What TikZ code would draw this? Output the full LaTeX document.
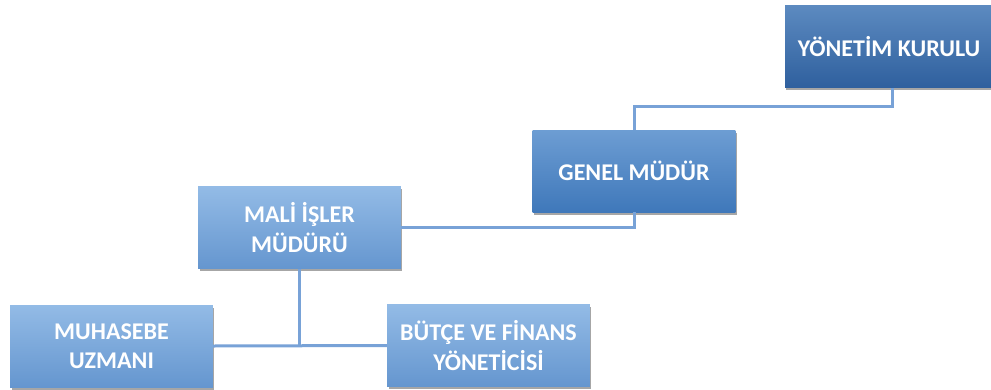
\documentclass[tikz,border=0pt]{standalone}
\usepackage{fontspec}
\setmainfont{Carlito}
\usetikzlibrary{shadows}
\definecolor{kurulTop}{HTML}{5C8AC0}
\definecolor{kurulBot}{HTML}{2F609E}
\definecolor{genelTop}{HTML}{6D9DD3}
\definecolor{genelBot}{HTML}{3F78BA}
\definecolor{birimTop}{HTML}{93BBE6}
\definecolor{birimBot}{HTML}{6596CF}
\definecolor{hat}{HTML}{78A2D7}
\begin{document}
\begin{tikzpicture}[x=0.75pt,y=-0.75pt]
\tikzset{
  kutu/.style={rectangle, inner sep=0pt, minimum width=152pt, minimum height=61.5pt,
    text=white, align=center, font=\fontsize{18}{22}\selectfont\bfseries,
    drop shadow={shadow xshift=1pt, shadow yshift=-2pt, opacity=0.35, fill=black}},
  kurul/.style={kutu, top color=kurulTop, bottom color=kurulBot},
  genel/.style={kutu, top color=genelTop, bottom color=genelBot},
  birim/.style={kutu, top color=birimTop, bottom color=birimBot},
  hat/.style={draw=hat, line width=2.25pt}
}
\useasboundingbox (0,0) rectangle (991,389);
% kutular
\node [kurul, minimum width=156pt] (kurul) at (889,46.5) {YÖNETİM KURULU};
\node [genel] (genel) at (634,171) {GENEL MÜDÜR};
\node [birim] (mali) at (299.5,227.5) {MALİ İŞLER\\MÜDÜRÜ};
\node [birim] (muhasebe) at (111.5,346) {MUHASEBE\\UZMANI};
\node [birim] (butce) at (488.5,345.5) {BÜTÇE VE FİNANS\\YÖNETİCİSİ};
% hatlar
\draw [hat] ([xshift=2.25pt]kurul.south) -- ++(0,19) -| (genel.north);
\draw [hat] (genel.south) |- (mali.east);
\draw [hat] (mali.south) -- (mali.south |- muhasebe.east);
\draw [hat] (muhasebe.east) -- (butce.west);
\end{tikzpicture}
\end{document}
